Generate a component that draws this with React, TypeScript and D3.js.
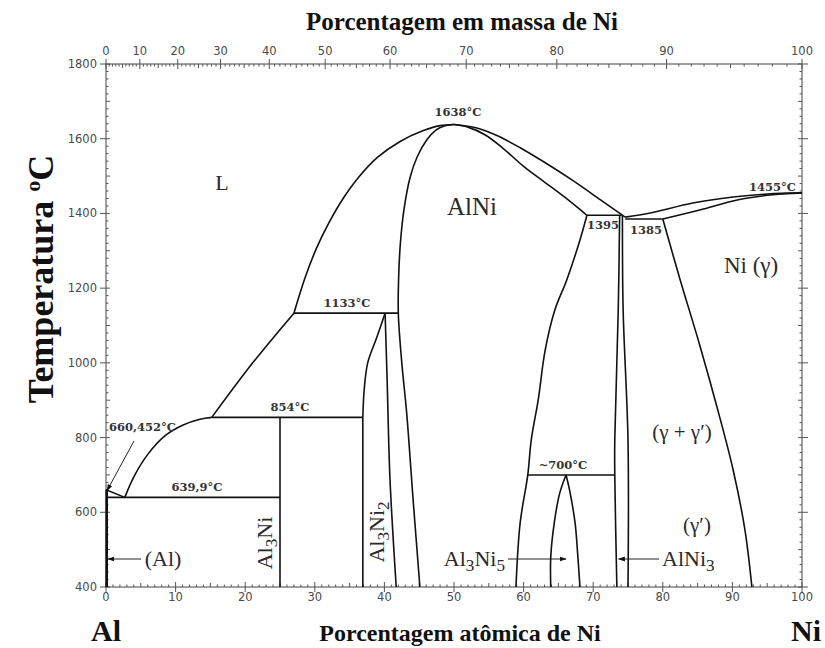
import React from "react";
import * as d3 from "d3";

type Pt = [number, number];

// Composition in at.% Ni, temperature in °C
const alLiquidus: Pt[] = [[0, 660.452], [2.7, 639.9]];
const al3NiLiquidus: Pt[] = [[2.7, 639.9], [4, 695], [6, 755], [8.5, 805], [11, 833], [13.5, 849], [15.2, 854]];
const al3Ni2Liquidus: Pt[] = [[15.2, 854], [21, 998], [27, 1133]];
const alNiLiquidusLeft: Pt[] = [[27, 1133], [28.6, 1228], [30.2, 1305], [32, 1374], [34, 1438], [36.3, 1497], [39, 1550], [42.2, 1592], [45.5, 1621], [48, 1635], [50, 1638]];
const alNiLiquidusRight: Pt[] = [[50, 1638], [53, 1630], [56, 1610], [59.5, 1576], [63, 1537], [67, 1489], [71, 1437], [74.6, 1390]];
const alNiSolidusRight: Pt[] = [[50, 1638], [52, 1631], [54.5, 1610], [57, 1575], [60, 1526], [63, 1484], [66, 1442], [69.1, 1395]];
const alNiLeft: Pt[] = [[50, 1638], [48.6, 1634], [47.4, 1623], [46.1, 1597], [44.7, 1551], [43.7, 1497], [42.8, 1409], [42.3, 1321], [42.05, 1230], [42, 1133], [42.5, 1000], [43.2, 866], [44.1, 640], [45.1, 400]];
const alNiRight: Pt[] = [[69.1, 1395], [68.1, 1329], [66.2, 1222], [64.5, 1142], [63.1, 1034], [62.1, 901], [61.1, 794], [60.6, 700], [59.5, 571], [58.9, 400]];
const al3Ni2LeftCurve: Pt[] = [[40.1, 1133], [38.9, 1068], [37.6, 1000], [37.1, 929], [36.9, 854]];
const al3Ni2LeftLine: Pt[] = [[36.9, 854], [36.9, 400]];
const al3Ni2Right: Pt[] = [[40.1, 1133], [40.4, 950], [40.8, 690], [41.7, 400]];
const al3NiLine: Pt[] = [[25, 854], [25, 400]];
const al3Ni5Left: Pt[] = [[66.1, 700], [65.2, 652], [64.4, 571], [63.9, 480], [63.9, 400]];
const al3Ni5Right: Pt[] = [[66.1, 700], [66.6, 660], [67.4, 571], [67.8, 480], [68.1, 400]];
const alNi3Left: Pt[] = [[73.8, 1395], [73.6, 1142], [73.1, 794], [73.1, 700], [73.4, 400]];
const alNi3Right: Pt[] = [[74.2, 1393], [74.3, 1142], [75.0, 794], [75.0, 400]];
const gammaLiquidus: Pt[] = [[74.6, 1390], [78.2, 1401], [84.3, 1428], [90.1, 1444], [95, 1452], [100, 1455]];
const gammaSolidus: Pt[] = [[80, 1385], [85.3, 1409], [90.7, 1436], [95.8, 1450], [100, 1455]];
const gammaSolvus: Pt[] = [[80, 1385], [82.5, 1222], [85.3, 1048], [87.9, 874], [90.1, 714], [91.8, 553], [92.8, 400]];
const alSolvus: Pt[] = [[0.1, 660.452], [0.1, 400]];

// Invariant isotherms: [x from, x to, temperature]
const isotherms: [number, number, number][] = [
  [0, 25, 639.9],
  [15.2, 36.9, 854],
  [27, 42, 1133],
  [60.6, 73.1, 700],
  [69.1, 74.1, 1395],
  [74.6, 80, 1385],
];

const tempTicks = [400, 600, 800, 1000, 1200, 1400, 1600, 1800];
const atTicks = [0, 10, 20, 30, 40, 50, 60, 70, 80, 90, 100];
const wtTicks = [0, 10, 20, 30, 40, 50, 60, 70, 80, 90, 100];

const M_NI = 58.693;
const M_AL = 26.982;
const wtToAt = (w: number) => {
  const a = w / M_NI;
  const b = (100 - w) / M_AL;
  return (100 * a) / (a + b);
};

const x = d3.scaleLinear().domain([0, 100]).range([106, 802]);
const y = d3.scaleLinear().domain([400, 1800]).range([587, 64]);

const smooth = d3
  .line<Pt>()
  .x((d) => x(d[0]))
  .y((d) => y(d[1]))
  .curve(d3.curveCatmullRom.alpha(0.5));
const straight = d3
  .line<Pt>()
  .x((d) => x(d[0]))
  .y((d) => y(d[1]));

const curves: Pt[][] = [
  al3NiLiquidus,
  al3Ni2Liquidus,
  alNiLiquidusLeft,
  alNiLiquidusRight,
  alNiSolidusRight,
  alNiLeft,
  alNiRight,
  al3Ni2LeftCurve,
  al3Ni2Right,
  al3Ni5Left,
  al3Ni5Right,
  alNi3Left,
  alNi3Right,
  gammaLiquidus,
  gammaSolidus,
  gammaSolvus,
];
const lines: Pt[][] = [alLiquidus, al3Ni2LeftLine, al3NiLine];

const serif = "'Liberation Serif', 'Times New Roman', serif";
const tickFont = "'DejaVu Sans', sans-serif";
const noteFont = "'DejaVu Serif', serif";

export default function App() {
  const minorT = d3.range(400, 1801, 20);
  const minorAt = d3.range(0, 101, 1);
  const minorWt = d3.range(0, 101, 1);
  const ink = "#111";
  const sub = "0.78em";
  return (
    <svg
      width={825}
      height={648}
      style={{ position: "absolute", left: 0, top: 0, background: "#fff" }}
    >
      <defs>
        <marker id="arr" viewBox="0 0 10 10" refX="9" refY="5" markerWidth="7" markerHeight="7" orient="auto-start-reverse" markerUnits="userSpaceOnUse">
          <path d="M0,1.5 L10,5 L0,8.5 Z" fill="#111" />
        </marker>
      </defs>

      {/* frame */}
      <rect x={x(0)} y={y(1800)} width={x(100) - x(0)} height={y(400) - y(1800)} fill="none" stroke="#444" strokeWidth={1} />

      {/* temperature axis ticks, both sides */}
      {minorT.map((t) => {
        const major = t % 200 === 0;
        const mid = t % 100 === 0;
        const len = major ? 4 : mid ? 4 : 2.5;
        return (
          <g key={"t" + t} stroke="#555" strokeWidth={1}>
            <line x1={x(0) - (major ? 6 : 0)} x2={x(0) + len} y1={y(t)} y2={y(t)} />
            <line x1={x(100) + (major ? 6 : 0)} x2={x(100) - len} y1={y(t)} y2={y(t)} />
          </g>
        );
      })}
      {tempTicks.map((t) => (
        <text key={"tl" + t} x={97} y={y(t) + 4} textAnchor="end" fontFamily={tickFont} fontSize={11.5} fill="#4a4a4a">
          {t}
        </text>
      ))}

      {/* atomic % axis (bottom) */}
      {minorAt.map((v) => {
        const major = v % 10 === 0;
        const mid = v % 5 === 0;
        return (
          <line key={"a" + v} x1={x(v)} x2={x(v)} y1={y(400) + (major ? 5 : 0)} y2={y(400) - (major ? 5 : mid ? 4 : 2.5)} stroke="#555" strokeWidth={1} />
        );
      })}
      {atTicks.map((v) => (
        <text key={"al" + v} x={x(v)} y={601} textAnchor="middle" fontFamily={tickFont} fontSize={11.5} fill="#4a4a4a">
          {v}
        </text>
      ))}

      {/* weight % axis (top) */}
      {minorWt.map((w) => {
        const major = w % 10 === 0;
        const mid = w % 5 === 0;
        return (
          <line key={"w" + w} x1={x(wtToAt(w))} x2={x(wtToAt(w))} y1={y(1800) - (major ? 5 : 0)} y2={y(1800) + (major ? 5 : mid ? 4 : 2.5)} stroke="#555" strokeWidth={1} />
        );
      })}
      {wtTicks.map((w) => (
        <text key={"wl" + w} x={x(wtToAt(w))} y={55} textAnchor="middle" fontFamily={tickFont} fontSize={11.5} fill="#4a4a4a">
          {w}
        </text>
      ))}

      {/* phase boundaries */}
      <g fill="none" stroke={ink} strokeWidth={1.6} strokeLinejoin="round">
        {curves.map((c, i) => (
          <path key={"c" + i} d={smooth(c) || ""} />
        ))}
        {lines.map((c, i) => (
          <path key={"l" + i} d={straight(c) || ""} />
        ))}
        {isotherms.map(([a, b, t], i) => (
          <line key={"i" + i} x1={x(a)} x2={x(b)} y1={y(t)} y2={y(t)} />
        ))}
        <path d={straight(alSolvus) || ""} strokeWidth={2.6} />
      </g>

      {/* invariant temperatures */}
      <g fontFamily={noteFont} fontSize={11.5} fontWeight="bold" fill="#333">
        <text x={458} y={116} textAnchor="middle">1638°C</text>
        <text x={347} y={307} textAnchor="middle">1133°C</text>
        <text x={290} y={411} textAnchor="middle">854°C</text>
        <text x={197} y={491} textAnchor="middle">639,9°C</text>
        <text x={109} y={431}>660,452°C</text>
        <text x={563} y={469} textAnchor="middle">~700°C</text>
        <text x={796} y={191} textAnchor="end">1455°C</text>
        <text x={603} y={229} textAnchor="middle">1395</text>
        <text x={646} y={234} textAnchor="middle">1385</text>
      </g>
      <line x1={134} y1={441} x2={x(0) + 1} y2={y(660.452) + 1} stroke="#222" strokeWidth={1} markerEnd="url(#arr)" />

      {/* phase labels */}
      <g fontFamily={serif} fill="#2a2a2a">
        <text x={222} y={190} textAnchor="middle" fontSize={22}>L</text>
        <text x={472} y={215} textAnchor="middle" fontSize={25}>AlNi</text>
        <text x={751} y={273} textAnchor="middle" fontSize={23}>Ni (γ)</text>
        <text x={682} y={439} textAnchor="middle" fontSize={21}>(γ + γ′)</text>
        <text x={697} y={532} textAnchor="middle" fontSize={21}>(γ′)</text>
        <text x={163} y={566} textAnchor="middle" fontSize={22}>(Al)</text>
        <text transform="translate(272,543) rotate(-90)" textAnchor="middle" fontSize={22}>
          Al<tspan dy={5} fontSize={sub}>3</tspan><tspan dy={-5}>Ni</tspan>
        </text>
        <text transform="translate(384,532) rotate(-90)" textAnchor="middle" fontSize={22}>
          Al<tspan dy={5} fontSize={sub}>3</tspan><tspan dy={-5}>Ni</tspan><tspan dy={5} fontSize={sub}>2</tspan>
        </text>
        <text x={505} y={566} textAnchor="end" fontSize={22}>
          Al<tspan dy={5} fontSize={sub}>3</tspan><tspan dy={-5}>Ni</tspan><tspan dy={5} fontSize={sub}>5</tspan>
        </text>
        <text x={662} y={566} fontSize={22}>
          AlNi<tspan dy={5} fontSize={sub}>3</tspan>
        </text>
      </g>
      <g stroke="#222" strokeWidth={1}>
        <line x1={141} y1={559} x2={x(0) + 2} y2={559} markerEnd="url(#arr)" />
        <line x1={508} y1={559} x2={x(66.1)} y2={559} markerEnd="url(#arr)" />
        <line x1={659} y1={559} x2={x(73.5) + 1} y2={559} markerEnd="url(#arr)" />
      </g>

      {/* axis titles */}
      <g fontFamily={serif} fontWeight="bold" fill="#111">
        <text x={462} y={30} textAnchor="middle" fontSize={25}>Porcentagem em massa de Ni</text>
        <text x={460} y={641} textAnchor="middle" fontSize={24}>Porcentagem atômica de Ni</text>
        <text x={91} y={641} fontSize={30}>Al</text>
        <text x={821} y={641} textAnchor="end" fontSize={30}>Ni</text>
        <text transform="translate(53,279) rotate(-90)" textAnchor="middle" fontSize={36}>
          Temperatura <tspan dy={-13} fontSize={22}>o</tspan>
          <tspan dy={13}>C</tspan>
        </text>
      </g>
    </svg>
  );
}
